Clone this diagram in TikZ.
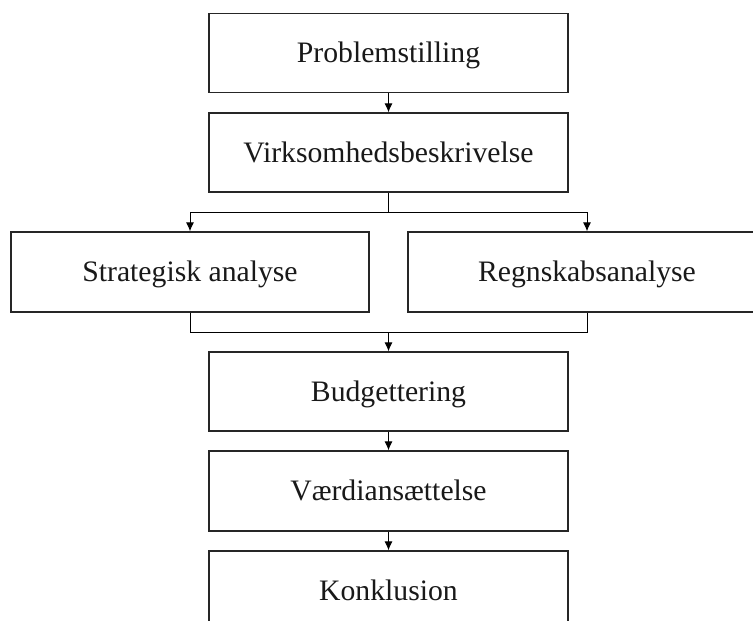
\documentclass[tikz,border=0pt]{standalone}
\usepackage{fontspec}
\setmainfont{Liberation Serif}
\usetikzlibrary{arrows.meta}
\begin{document}
\begin{tikzpicture}[x=1pt,y=-1pt,
  stagebox/.style={draw=black!85,line width=1.2pt,fill=white,minimum width=359pt,
    minimum height=79pt,inner sep=0pt,text height=19.7pt,text depth=0pt,
    font=\fontsize{29.7}{34}\selectfont,text=black!90},
  link/.style={draw=black,line width=1pt},
  arrowlink/.style={link,-{Latex[length=9pt,width=8pt]}}]
\useasboundingbox (0,0) rectangle (753,621);
\clip (0,0) rectangle (753,621);
\node[stagebox] (prob)  at (388.5,53)   {Problemstilling};
\node[stagebox] (virk)  at (388.5,152.5) {Virksomhedsbeskrivelse};
\node[stagebox,minimum width=358pt,minimum height=80pt] (strat) at (190,272) {Strategisk analyse};
\node[stagebox,minimum width=358pt,minimum height=80pt] (regn)  at (587,272) {Regnskabsanalyse};
\node[stagebox] (budg)  at (388.5,391.5) {Budgettering};
\node[stagebox,minimum height=80pt] (vaerd) at (388.5,491) {Værdiansættelse};
\node[stagebox,minimum height=80pt] (konk)  at (388.5,591) {Konklusion};
% split and merge points
\coordinate (split) at (388.5,212);
\coordinate (merge) at (388.5,332);
\coordinate (mergeL) at (190,332);
\coordinate (mergeR) at (587,332);
\draw[arrowlink] (prob.south) -- (virk.north);
\draw[link] (virk.south) -- (split);
\draw[arrowlink] (split) -| (strat.north);
\draw[arrowlink] (split) -| (regn.north);
\draw[link] (strat.south) -- (mergeL) -- (mergeR) -- (regn.south);
\draw[arrowlink] (merge) -- (budg.north);
\draw[arrowlink] (budg.south) -- (vaerd.north);
\draw[arrowlink] (vaerd.south) -- (konk.north);
\end{tikzpicture}
\end{document}
